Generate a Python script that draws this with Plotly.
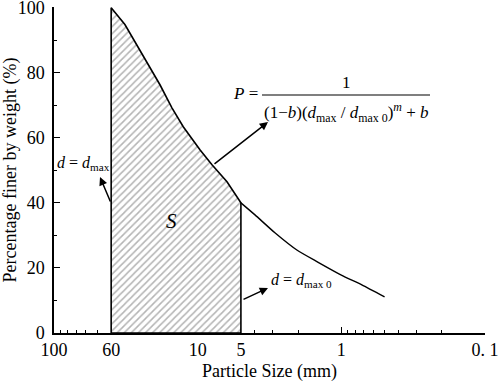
import plotly.graph_objects as go

# ---- data ----
d_mm = [40, 32.1, 26.0, 22.2, 18.3, 15.1, 12.6, 9.64, 7.95, 6.25, 5.0,
        3.99, 2.90, 2.04, 1.46, 1.0, 0.72, 0.50]
pct_finer = [100, 94.8, 88.0, 82.5, 76.3, 69.2, 63.4, 56.3, 51.7, 46.5, 40.0,
             36.3, 30.8, 25.5, 21.8, 17.8, 14.8, 11.1]
d_max = 40      # axis position of the line labelled "60"
d_max0 = 5
x_tickvals = [100, 40, 10, 5, 1, 0.1]
x_ticktext = ["100", "60", "10", "5", "1", "0. 1"]
x_minor = [90, 80, 70, 60, 50, 4, 3, 2, 0.9, 0.8, 0.7, 0.6, 0.5, 0.4, 0.3, 0.2]
y_tickvals = [0, 20, 40, 60, 80, 100]
y_minor = [10, 30, 50, 70, 90]

FONT = "Times New Roman, Liberation Serif, serif"

# region S between d_max and d_max0
reg_x = [d for d in d_mm if d_max0 <= d <= d_max]
reg_y = [p for d, p in zip(d_mm, pct_finer) if d_max0 <= d <= d_max]
poly_x = [d_max] + reg_x + [d_max0, d_max]
poly_y = [0] + reg_y + [0, 0]

fig = go.Figure()
fig.add_trace(go.Scatter(
    x=poly_x, y=poly_y, mode="lines", fill="toself",
    fillcolor="white",
    fillpattern=dict(shape="/", size=5, solidity=0.3, fgcolor="#b4b4b4",
                     bgcolor="white", fillmode="replace"),
    line=dict(color="black", width=1.6), hoverinfo="skip", showlegend=False))
tail_x = [d for d in d_mm if d <= d_max0]
tail_y = [p for d, p in zip(d_mm, pct_finer) if d <= d_max0]
fig.add_trace(go.Scatter(x=tail_x, y=tail_y, mode="lines",
                         line=dict(color="black", width=1.4, shape="spline", smoothing=0.6),
                         showlegend=False))

# plot area geometry in pixels (for decoration placement)
L, R, T, B = 54, 13, 7, 49
W, H = 498 - L - R, 382 - T - B


def px(x):
    return (x - L) / W


def py(y):
    return (382 - B - y) / H


def label(x, y, text, size=16):
    return dict(x=px(x), y=py(y), xref="paper", yref="paper", showarrow=False,
                xanchor="center", yanchor="middle", text=text,
                font=dict(family=FONT, size=size, color="black"))


ann = [
    label(83, 163, "<i>d</i> = <i>d</i><sub>max</sub>"),
    label(301, 280, "<i>d</i> = <i>d</i><sub>max 0</sub>"),
    label(171, 221, "<i>S</i>", 21),
    label(245, 93, "<i>P</i> =", 17),
    label(346, 82, "1", 17),
    label(346, 112, "(1\u2212<i>b</i>)(<i>d</i><sub>max</sub> / <i>d</i><sub>max 0</sub>)"
                    "<sup><i>m</i></sup> + <i>b</i>", 17),
]
# arrows
arrow = dict(xref="paper", yref="paper", text="", showarrow=True, arrowhead=2,
             arrowsize=1.1, arrowwidth=1.5, arrowcolor="black")
ann.append(dict(arrow, x=px(100), y=py(177), ax=11, ay=26))
ann.append(dict(arrow, x=px(268), y=py(122), ax=-55, ay=43))
ann.append(dict(arrow, x=px(268), y=py(288), ax=-26, ay=12))

fig.update_layout(
    width=498, height=382,
    margin=dict(l=L, r=R, t=T, b=B, autoexpand=False),
    paper_bgcolor="white", plot_bgcolor="white",
    font=dict(family=FONT, color="black"),
    annotations=ann,
    shapes=[dict(type="line", xref="paper", yref="paper",
                 x0=px(262), x1=px(430), y0=py(95), y1=py(95),
                 line=dict(color="black", width=1.2))],
    xaxis=dict(type="log", range=[2, -1], tickmode="array",
               tickvals=x_tickvals, ticktext=x_ticktext, automargin=False,
               ticklabeloverflow="allow",
               ticks="inside", ticklen=6, tickwidth=1.3, tickcolor="black",
               minor=dict(tickmode="array", tickvals=x_minor, ticks="inside",
                          ticklen=3, tickwidth=1.3, tickcolor="black", showgrid=False),
               showline=True, linecolor="black", linewidth=1.5, showgrid=False,
               zeroline=False, layer="below traces",
               tickfont=dict(family=FONT, size=18),
               title=dict(text="Particle Size (mm)", font=dict(family=FONT, size=18),
                          standoff=6)),
    yaxis=dict(range=[0, 100.2], tickmode="array", tickvals=y_tickvals, automargin=False,
               ticklabeloverflow="allow", ticklabelstandoff=4,
               ticks="inside", ticklen=6, tickwidth=1.3, tickcolor="black",
               minor=dict(tickmode="array", tickvals=y_minor, ticks="inside", ticklen=3,
                          tickwidth=1.3, tickcolor="black", showgrid=False),
               showline=True, linecolor="black", linewidth=1.5, showgrid=False,
               zeroline=False, layer="below traces",
               tickfont=dict(family=FONT, size=18),
               title=dict(text="Percentage finer by weight (%)",
                          font=dict(family=FONT, size=18), standoff=4)),
)

fig.write_html("out.html", config={"displayModeBar": False},
               post_script="document.body.style.margin='0';document.body.style.overflow='hidden';")
